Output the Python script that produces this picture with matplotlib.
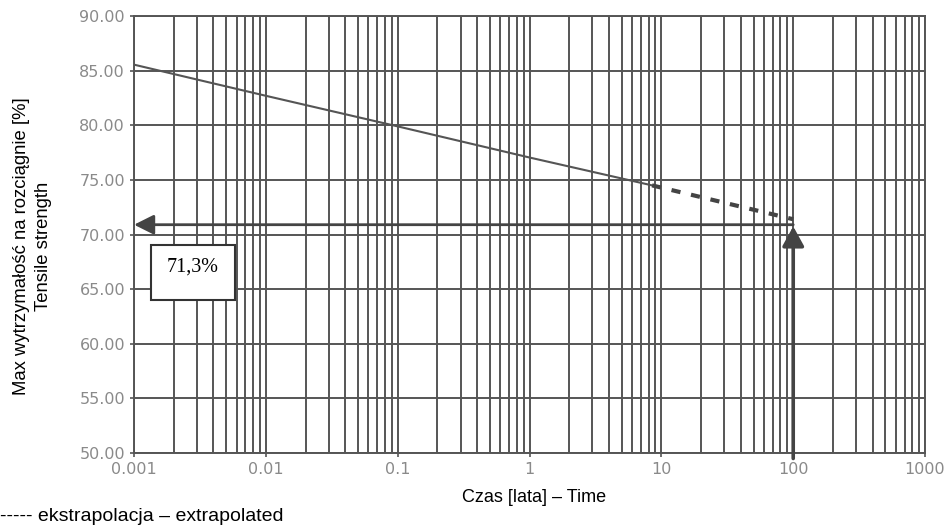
import matplotlib.pyplot as plt
from matplotlib.patches import FancyArrowPatch
from matplotlib.ticker import FixedLocator, LogLocator, NullFormatter

# dane
czas_pomiar = [0.001, 0.01, 0.1, 1, 8.5]
wytrz_pomiar = [85.55, 82.7, 79.9, 77.05, 74.5]
czas_ekstra = [8.5, 100]
wytrz_ekstra = [74.5, 71.4]
x_ticki = [0.001, 0.01, 0.1, 1, 10, 100, 1000]
x_etykiety = ["0.001", "0.01", "0.1", "1", "10", "100", "1000"]
y_ticki = [50, 55, 60, 65, 70, 75, 80, 85, 90]
wartosc_odczyt = 70.9
czas_odczyt = 100
etykieta = "71,3%"

szary = "#555555"

fig = plt.figure(figsize=(9.48, 5.28), dpi=100)
ax = fig.add_axes([0.1414, 0.142, 0.8344, 0.8276])
ax.set_xscale("log")
ax.set_xlim(0.001, 1000)
ax.set_ylim(50, 90)

ax.xaxis.set_major_locator(FixedLocator(x_ticki))
ax.set_xticklabels(x_etykiety)
ax.xaxis.set_minor_locator(LogLocator(base=10, subs=range(2, 10)))
ax.xaxis.set_minor_formatter(NullFormatter())
ax.set_yticks(y_ticki)
ax.set_yticklabels(["%.2f" % v for v in y_ticki])

ax.grid(True, which="both", axis="x", color=szary, linewidth=1.4)
ax.grid(True, which="major", axis="y", color=szary, linewidth=1.4)
ax.set_axisbelow(True)
for s in ax.spines.values():
    s.set_color(szary)
    s.set_linewidth(1.4)
ax.tick_params(which="both", colors=szary, labelcolor="#8a8a8a", labelsize=11.5,
               length=3, width=1.2)
ax.tick_params(which="minor", length=0)

ax.plot(czas_pomiar, wytrz_pomiar, color=szary, linewidth=1.5, zorder=3)
ax.plot(czas_ekstra, wytrz_ekstra, color="#444444", linewidth=3,
        dashes=(2.2, 2.6), zorder=3)

# strzalki odczytu
strz_poz = FancyArrowPatch((czas_odczyt, wartosc_odczyt), (0.001, wartosc_odczyt),
                           arrowstyle="-|>,head_length=1.0,head_width=0.5",
                           mutation_scale=12, color="#444444", linewidth=2,
                           shrinkA=0, shrinkB=0, zorder=4, clip_on=False)
ax.add_patch(strz_poz)
strz_pion = FancyArrowPatch((czas_odczyt, 49.5), (czas_odczyt, wartosc_odczyt - 0.15),
                            arrowstyle="-|>,head_length=1.0,head_width=0.55",
                            mutation_scale=12, color="#444444", linewidth=2.6,
                            shrinkA=0, shrinkB=0, zorder=4, clip_on=False)
ax.add_patch(strz_pion)

# ramka z wartoscia
fig.text(0.2035, 0.4937, etykieta, family="Liberation Serif", fontsize=14.5,
         ha="center", va="center", zorder=6)
ramka = plt.Rectangle((151 / 948, 1 - 300 / 528), 84 / 948, 55 / 528,
                      transform=fig.transFigure, facecolor="white",
                      edgecolor="#333333", linewidth=1.5, zorder=5)
fig.patches.append(ramka)

fig.text(0.0345, 0.533, "Max wytrzymałość na rozciągnie [%]\nTensile strength",
         rotation=90, ha="center", va="center", family="Liberation Sans",
         fontsize=13.3, linespacing=1.4)
fig.text(0.563, 0.057, "Czas [lata] – Time", ha="center", va="center",
         family="Liberation Sans", fontsize=13)
fig.text(0.0, 0.021, "----- ekstrapolacja – extrapolated", ha="left", va="center",
         family="Liberation Sans", fontsize=14)

fig.savefig("out.png", dpi=100)
